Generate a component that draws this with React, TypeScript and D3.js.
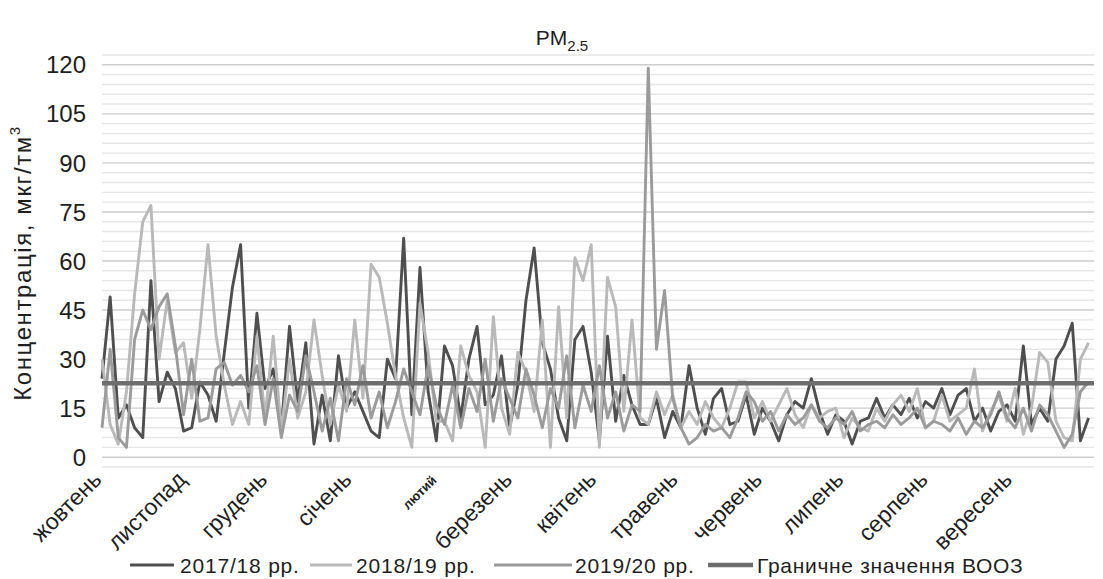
import React from 'react'
import * as d3 from 'd3'

// daily PM2.5, sampled every 3 days from 1 Oct (day 0)
const STEP = 3
const s1718 = [24,49,12,16,9,6,54,17,26,21,8,9,23,19,11,32,52,65,15,44,21,27,9,40,17,35,4,19,5,31,15,20,14,8,6,30,24,67,13,58,20,5,34,28,12,30,40,16,19,31,9,22,48,64,35,27,12,5,36,40,26,5,37,11,25,16,10,10,18,6,14,9,28,15,7,18,21,10,11,19,7,15,11,5,13,17,15,24,14,7,13,11,4,11,12,18,12,16,13,18,12,17,15,21,13,19,21,11,15,8,14,16,11,34,10,15,11,30,34,41,5,12]
const s1819 = [30,10,4,20,50,72,77,30,48,32,35,18,39,65,37,22,10,17,10,37,12,37,8,30,12,20,42,25,10,22,14,42,18,59,55,41,25,12,3,47,32,11,11,5,34,25,20,3,43,15,7,32,26,14,42,3,46,12,61,54,65,3,55,46,14,42,12,10,20,13,19,9,14,10,17,12,9,15,23,23,12,17,11,16,21,13,9,16,12,14,15,6,12,9,8,15,11,16,19,14,21,9,11,19,11,13,15,27,8,14,19,11,21,7,15,32,29,11,6,5,30,35]
const s1920 = [9,33,6,3,36,45,39,46,50,34,13,30,11,12,27,29,22,25,20,28,10,24,6,19,14,31,20,8,18,5,24,16,28,12,20,9,17,27,20,13,28,16,10,22,9,21,14,30,11,24,18,12,27,19,9,21,15,31,9,22,14,28,12,20,8,16,14,119,33,51,18,9,4,6,10,8,9,6,12,20,17,11,14,8,13,10,12,16,11,9,12,10,14,8,10,11,9,13,10,12,15,9,11,10,8,12,7,11,9,13,20,12,9,15,8,16,13,8,3,7,20,23]
const whoLimit = 22.6

const months = ['жовтень','листопад','грудень','січень','лютий','березень','квітень','травень','червень','липень','серпень','вересень']
const monthStart = [0,31,61,92,123,151,182,212,243,273,304,335]
const yTicks = [0,15,30,45,60,75,90,105,120]

const series = [
  { name: '2017/18 рр.', values: s1718, color: '#4f4f4f' },
  { name: '2018/19 рр.', values: s1819, color: '#b9b9b9' },
  { name: '2019/20 рр.', values: s1920, color: '#9b9b9b' },
]

const FONT = '"Liberation Sans", Arial, sans-serif'
const INK = '#1e1e1e'

export default function App() {
  const W = 1103, H = 579
  const x = d3.scaleLinear().domain([0, 365]).range([102, 1094])
  const y = d3.scaleLinear().domain([-3, 123]).range([467, 55])
  const grid = d3.range(-3, 124, 3)

  const line = d3.line<number>()
    .defined(v => v != null)
    .x((_, i) => x(i * STEP))
    .y(v => y(v))

  // legend: [line start, line end, text start]
  const legendPos = [[130, 174, 180], [310, 352, 356], [494, 572, 575], [708, 753, 757]]
  const LY = 565

  return (
    <svg width={W} height={H} style={{ position: 'absolute', left: 0, top: 0, background: '#fff' }} fontFamily={FONT}>
      <text x={562} y={45} textAnchor="middle" fontSize={21} fill={INK}>
        PM<tspan fontSize={15} dy={6}>2.5</tspan>
      </text>

      {grid.map(g => (
        <line key={g} x1={102} x2={1094} y1={y(g)} y2={y(g)}
          stroke={g % 15 === 0 ? '#cdcdcd' : '#e6e6e6'} strokeWidth={1.4} />
      ))}

      {yTicks.map(t => (
        <text key={t} x={86} y={y(t)} dy="0.36em" textAnchor="end" fontSize={24} fill={INK}>{t}</text>
      ))}

      <text transform={`translate(31,${263}) rotate(-90)`} textAnchor="middle" fontSize={24} letterSpacing={1.6} fill={INK}>
        Концентрація, мкг/тм<tspan fontSize={15} dy={-11}>3</tspan>
      </text>

      {series.map(s => (
        <path key={s.name} d={line(s.values) || ''} fill="none" stroke={s.color} strokeWidth={2.9} strokeLinejoin="round" />
      ))}

      <line x1={x(0)} x2={x(365)} y1={y(whoLimit)} y2={y(whoLimit)} stroke="#6d6d6d" strokeWidth={4.5} />

      {months.map((m, i) => {
        const bold = m === 'лютий'
        return (
          <text key={m} transform={`translate(${x(monthStart[i]) + 1},${481}) rotate(-45)`}
            textAnchor="end" fontSize={bold ? 13 : 23} fontWeight={bold ? 'bold' : 'normal'} fill={INK}>{m}</text>
        )
      })}

      {series.map((s, i) => (
        <g key={s.name}>
          <line x1={legendPos[i][0]} x2={legendPos[i][1]} y1={LY} y2={LY} stroke={s.color} strokeWidth={2.9} />
          <text x={legendPos[i][2]} y={LY} dy="0.36em" fontSize={21} letterSpacing={0.8} fill={INK}>{s.name}</text>
        </g>
      ))}
      <g>
        <line x1={legendPos[3][0]} x2={legendPos[3][1]} y1={LY} y2={LY} stroke="#6d6d6d" strokeWidth={4.5} />
        <text x={legendPos[3][2]} y={LY} dy="0.36em" fontSize={21} letterSpacing={0.7} fill={INK}>Граничне значення ВООЗ</text>
      </g>
    </svg>
  )
}
